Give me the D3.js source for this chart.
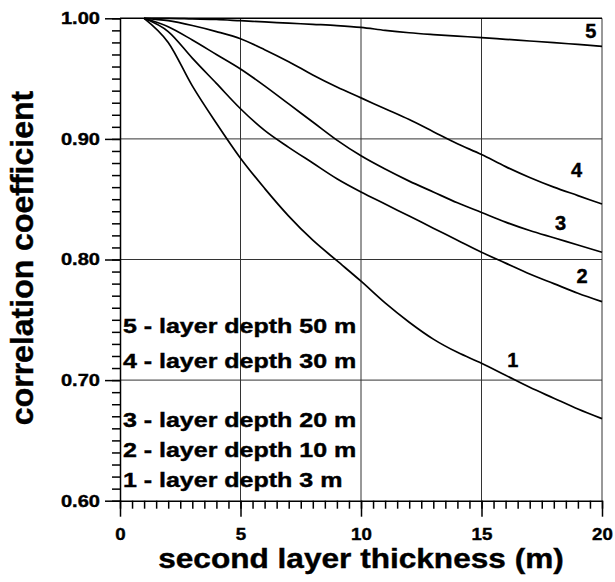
<!DOCTYPE html>
<html>
<head>
<meta charset="utf-8">
<script src="https://cdn.jsdelivr.net/npm/d3@7"></script>
<style>
  body { margin: 0; background: #fff; }
  text { font-family: "Liberation Sans", Arial, sans-serif; font-weight: bold; fill: #000; stroke: #000; stroke-width: 0.4px; }
</style>
</head>
<body>
<svg id="chart" width="615" height="582"></svg>
<script>
// second layer thickness (m)
const thickness = [1, 2, 3, 4, 5, 6, 7, 8, 9, 10, 11, 12, 13, 14, 15, 16, 17, 18, 19, 20];

// correlation coefficient per first-layer depth
const depth3m  = [1.000, 0.980, 0.944, 0.913, 0.884, 0.859, 0.836, 0.816, 0.799, 0.782, 0.764, 0.748, 0.734, 0.723, 0.714, 0.704, 0.694, 0.685, 0.676, 0.668];
const depth10m = [1.000, 0.989, 0.967, 0.946, 0.925, 0.907, 0.893, 0.880, 0.867, 0.856, 0.846, 0.836, 0.826, 0.816, 0.806, 0.797, 0.788, 0.780, 0.772, 0.765];
const depth20m = [1.000, 0.993, 0.982, 0.970, 0.958, 0.944, 0.929, 0.914, 0.899, 0.886, 0.875, 0.865, 0.856, 0.847, 0.839, 0.831, 0.824, 0.818, 0.812, 0.806];
const depth30m = [1.000, 0.998, 0.994, 0.989, 0.983, 0.974, 0.964, 0.953, 0.943, 0.934, 0.925, 0.916, 0.906, 0.896, 0.887, 0.877, 0.868, 0.860, 0.853, 0.846];
const depth50m = [1.000, 1.000, 0.9995, 0.999, 0.998, 0.997, 0.996, 0.995, 0.994, 0.9925, 0.990, 0.988, 0.9865, 0.9852, 0.984, 0.9826, 0.9812, 0.9798, 0.9783, 0.9768];

const curveIds = ['1', '2', '3', '4', '5'];
// where each curve number sits, in data units (thickness, coefficient)
const curveLabelX = [16.3, 19.17, 18.28, 18.94, 19.54];
const curveLabelY = [0.711, 0.7805, 0.8245, 0.8684, 0.9836];

const legendLines = [
    '5 - layer depth 50 m',
    '4 - layer depth 30 m',
    '3 - layer depth 20 m',
    '2 - layer depth 10 m',
    '1 - layer depth 3 m'
];
const legendY = [0.739, 0.710, 0.661, 0.636, 0.611];

const xTicks = [0, 5, 10, 15, 20];
const yTicks = [0.60, 0.70, 0.80, 0.90, 1.00];
const xMinorTicks = d3.range(0, 41).map(i => i / 2);
const yMinorTicks = d3.range(60, 101).map(i => i / 100);

const svg = d3.select('#chart');

const x = d3.scaleLinear().domain([0, 20]).range([120, 602]);
const y = d3.scaleLinear().domain([0.6, 1.0]).range([500.7, 18.3]);

// stretch text horizontally, the scan is wider than the font
function stretch(sel, k) {
    sel.each(function () {
        const w = this.getComputedTextLength();
        d3.select(this).attr('textLength', w * k).attr('lengthAdjust', 'spacingAndGlyphs');
    });
}

// grid
const grid = svg.append('g').attr('stroke', '#333').attr('stroke-width', 1);
grid.selectAll('.gx')
    .data([5, 10, 15, 20])
    .join('line')
    .attr('x1', d => x(d)).attr('x2', d => x(d))
    .attr('y1', y(0.6)).attr('y2', y(1.0));
grid.selectAll('.gy')
    .data([0.7, 0.8, 0.9, 1.0])
    .join('line')
    .attr('x1', x(0)).attr('x2', x(20))
    .attr('y1', d => y(d)).attr('y2', d => y(d))
    .attr('stroke', d => d === 1.0 ? '#000' : '#333')
    .attr('stroke-width', d => d === 1.0 ? 1.5 : 1);

// minor ticks
const xMinorAxis = svg.append('g')
    .attr('class', 'x-minor')
    .attr('transform', `translate(0,${y(0.6)})`)
    .call(d3.axisBottom(x).tickValues(xMinorTicks).tickSize(8).tickFormat(() => ''));
xMinorAxis.select('.domain').remove();
xMinorAxis.selectAll('.tick line').attr('stroke', '#000').attr('stroke-width', 1.5);

const yMinorAxis = svg.append('g')
    .attr('class', 'y-minor')
    .attr('transform', `translate(${x(0)},0)`)
    .call(d3.axisLeft(y).tickValues(yMinorTicks).tickSize(8).tickFormat(() => ''));
yMinorAxis.select('.domain').remove();
yMinorAxis.selectAll('.tick line').attr('stroke', '#000').attr('stroke-width', 1.5);

// major axes
const xAxis = svg.append('g')
    .attr('transform', `translate(0,${y(0.6)})`)
    .call(d3.axisBottom(x).tickValues(xTicks).tickSize(16).tickSizeOuter(0).tickPadding(11).tickFormat(d3.format('d')));
xAxis.select('.domain').attr('stroke', '#000').attr('stroke-width', 1.5);
xAxis.selectAll('line').attr('stroke', '#000').attr('stroke-width', 1.5);
xAxis.selectAll('text').style('font-size', '17px').attr('fill', '#000').call(stretch, 1.1);

const yAxis = svg.append('g')
    .attr('transform', `translate(${x(0)},0)`)
    .call(d3.axisLeft(y).tickValues(yTicks).tickSize(15).tickSizeOuter(0).tickPadding(5).tickFormat(d3.format('.2f')));
yAxis.select('.domain').attr('stroke', '#000').attr('stroke-width', 1.5);
yAxis.selectAll('line').attr('stroke', '#000').attr('stroke-width', 1.5);
yAxis.selectAll('text').style('font-size', '17px').attr('fill', '#000').call(stretch, 1.18);

// curves
const series = [depth3m, depth10m, depth20m, depth30m, depth50m].map((vals, i) => ({
    id: curveIds[i],
    points: thickness.map((t, j) => [t, vals[j]])
}));

const line = d3.line()
    .x(d => x(d[0]))
    .y(d => y(d[1]))
    .curve(d3.curveMonotoneX);

svg.append('g')
    .selectAll('path')
    .data(series)
    .join('path')
    .attr('d', d => line(d.points))
    .attr('fill', 'none')
    .attr('stroke', '#000')
    .attr('stroke-width', 1.7)
    .attr('stroke-linejoin', 'round');

// curve numbers
svg.append('g')
    .selectAll('text')
    .data(curveIds)
    .join('text')
    .attr('x', (d, i) => x(curveLabelX[i]))
    .attr('y', (d, i) => y(curveLabelY[i]))
    .attr('text-anchor', 'middle')
    .style('font-size', '20px')
    .text(d => d);

// legend
svg.append('g')
    .selectAll('text')
    .data(legendLines)
    .join('text')
    .attr('x', x(0.12))
    .attr('y', (d, i) => y(legendY[i]))
    .style('font-size', '20px')
    .text(d => d)
    .call(stretch, 1.25);

// axis titles
svg.append('text')
    .attr('x', 361)
    .attr('y', 568)
    .attr('text-anchor', 'middle')
    .style('font-size', '27px')
    .text('second layer thickness (m)')
    .call(stretch, 1.17);

svg.append('text')
    .attr('transform', 'translate(33,258) rotate(-90)')
    .attr('text-anchor', 'middle')
    .style('font-size', '32px')
    .text('correlation coefficient');
</script>
</body>
</html>
